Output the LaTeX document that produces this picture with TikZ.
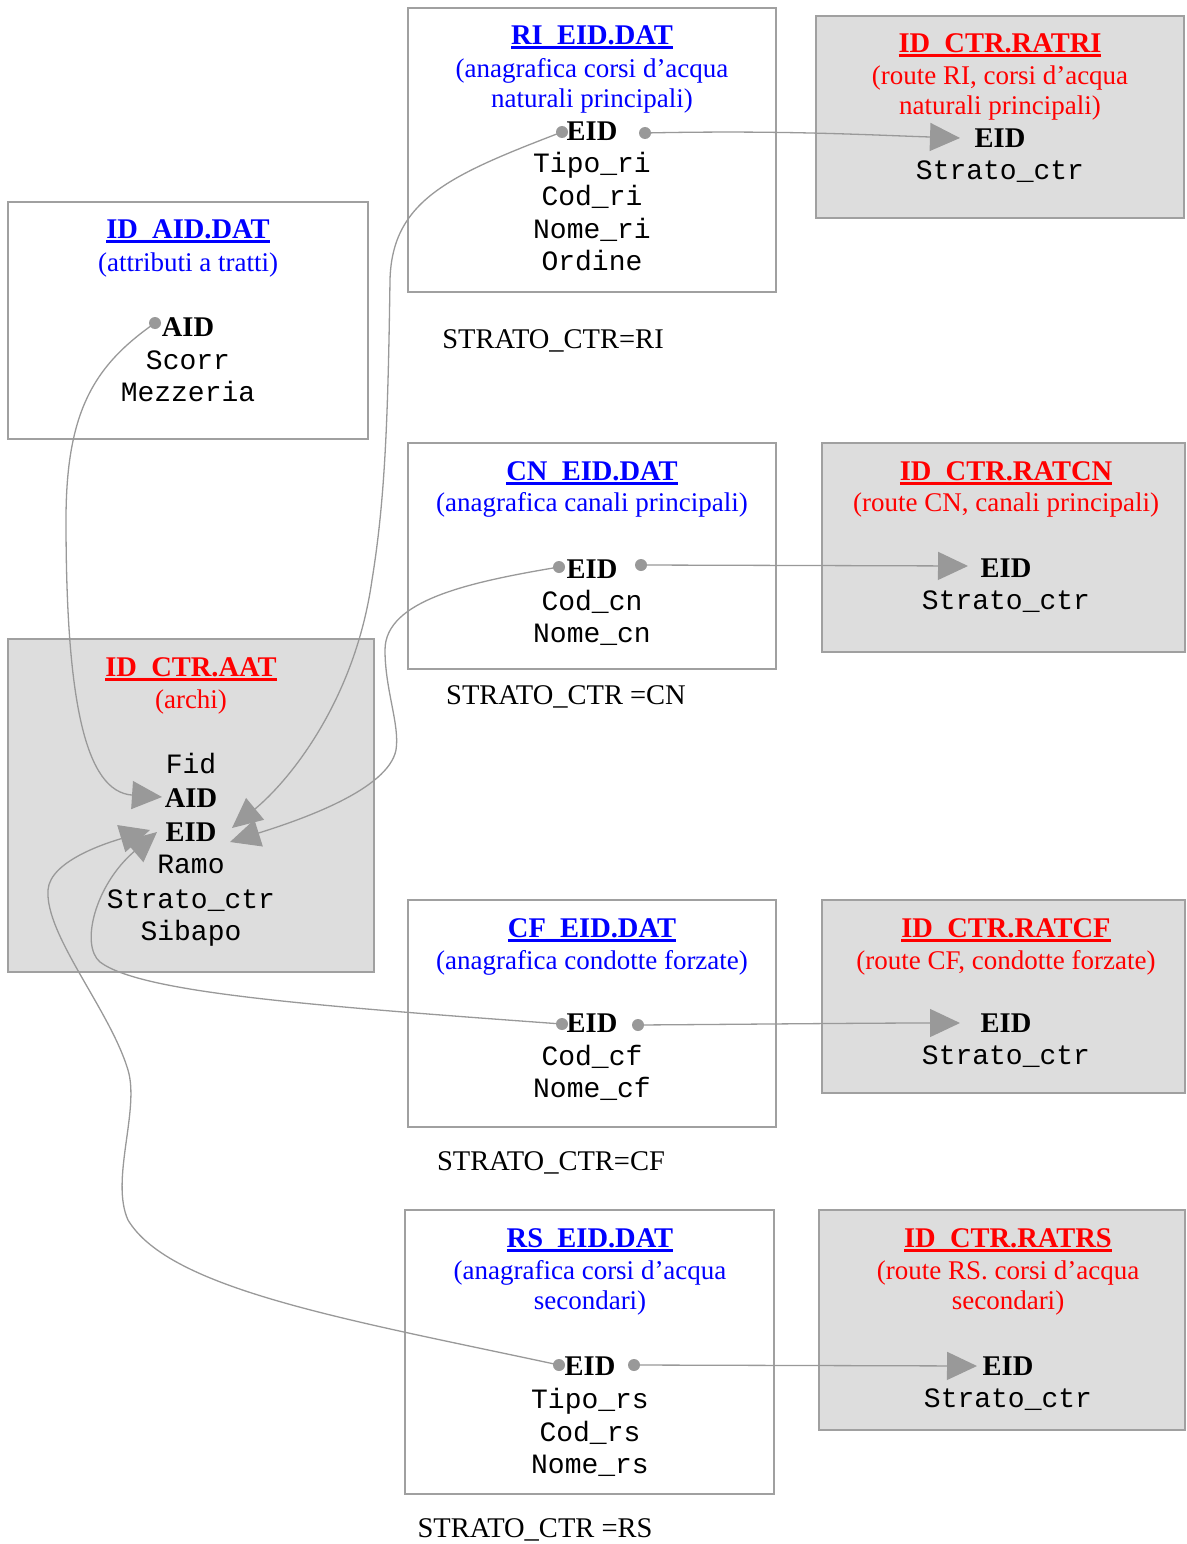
\documentclass[tikz,border=0pt]{standalone}
\usepackage{fontspec}
\setmainfont{Liberation Serif}
\setmonofont{Liberation Mono}
\usetikzlibrary{arrows.meta}
\definecolor{bordergray}{HTML}{A0A0A0}
\definecolor{boxgray}{HTML}{DDDDDD}
\definecolor{linegray}{HTML}{999999}
\definecolor{tblue}{HTML}{0000FF}
\definecolor{tred}{HTML}{FF0000}
\newcommand{\myul}[1]{\setbox0=\hbox{#1}\leavevmode\rlap{\rule[-4.5pt]{\wd0}{2.6pt}}\box0}
\tikzset{
  wbox/.style={draw=bordergray, line width=1.4pt, fill=white},
  gbox/.style={draw=bordergray, line width=1.4pt, fill=boxgray},
  ttl/.style={font=\fontsize{28.5}{31}\selectfont\bfseries, inner sep=0pt, text height=19pt, text depth=0pt},
  bttl/.style={ttl, text=tblue},
  rttl/.style={ttl, text=tred},
  sub/.style={font=\fontsize{27}{30.5}\selectfont, inner sep=0pt, align=center},
  bsub/.style={sub, text=tblue},
  rsub/.style={sub, text=tred},
  key/.style={font=\fontsize{28.5}{31}\selectfont\bfseries, inner sep=0pt, text height=19pt, text depth=0pt},
  fld/.style={font=\fontsize{28}{31}\selectfont\ttfamily, inner sep=0pt, text height=17pt, text depth=6pt, yshift=-4pt},
  lbl/.style={font=\fontsize{28.5}{31}\selectfont, inner sep=0pt, text height=19pt, text depth=6pt, yshift=-3pt},
  dot/.style={circle, fill=linegray, inner sep=0pt, minimum size=12pt},
  link/.style={color=linegray, line width=1.3pt},
  arr/.style={link, -{Triangle[length=30pt,width=28pt]}},
}
\begin{document}
\begin{tikzpicture}[x=1pt,y=-1pt]
\useasboundingbox (0,0) rectangle (1186,1544);
% boxes
\path[wbox] (408,8) rectangle (776,292);
\path[gbox] (816,16) rectangle (1184,218);
\path[wbox] (8,202) rectangle (368,439);
\path[wbox] (408,443) rectangle (776,669);
\path[gbox] (822,443) rectangle (1185,652);
\path[gbox] (8,639) rectangle (374,972);
\path[wbox] (408,900) rectangle (776,1127);
\path[gbox] (822,900) rectangle (1185,1093);
\path[wbox] (405,1210) rectangle (774,1494);
\path[gbox] (819,1210) rectangle (1185,1430);

% RI_EID
\node[bttl] (ri-t) at (592,35) {\myul{RI\_EID.DAT}};
\node[bsub] (ri-s) at (592,86) {(anagrafica corsi d’acqua\\naturali principali)};
\node[key] (ri-eid) at (592,131) {EID};
\node[fld] (ri-f1) at (592,163) {Tipo\_ri};
\node[fld] (ri-f2) at (592,196) {Cod\_ri};
\node[fld] (ri-f3) at (592,229) {Nome\_ri};
\node[fld] (ri-f4) at (592,261) {Ordine};
\node[lbl] (ri-l) at (553,339) {STRATO\_CTR=RI};

% RATRI
\node[rttl] (ratri-t) at (1000,43) {\myul{ID\_CTR.RATRI}};
\node[rsub] (ratri-s) at (1000,93) {(route RI, corsi d’acqua\\naturali principali)};
\node[key] (ratri-eid) at (1000,138) {EID};
\node[fld] (ratri-f1) at (1000,170) {Strato\_ctr};

% AID
\node[bttl] (aid-t) at (188,229) {\myul{ID\_AID.DAT}};
\node[bsub] (aid-s) at (188,265) {(attributi a tratti)};
\node[key] (aid-aid) at (188,327) {AID};
\node[fld] (aid-f1) at (188,360) {Scorr};
\node[fld] (aid-f2) at (188,392) {Mezzeria};

% CN
\node[bttl] (cn-t) at (592,471) {\myul{CN\_EID.DAT}};
\node[bsub] (cn-s) at (592,505) {(anagrafica canali principali)};
\node[key] (cn-eid) at (592,569) {EID};
\node[fld] (cn-f1) at (592,601) {Cod\_cn};
\node[fld] (cn-f2) at (592,633) {Nome\_cn};
\node[lbl] (cn-l) at (566,695) {STRATO\_CTR =CN};

% RATCN
\node[rttl] (ratcn-t) at (1006,471) {\myul{ID\_CTR.RATCN}};
\node[rsub] (ratcn-s) at (1006,505) {(route CN, canali principali)};
\node[key] (ratcn-eid) at (1006,568) {EID};
\node[fld] (ratcn-f1) at (1006,600) {Strato\_ctr};

% AAT
\node[rttl] (aat-t) at (191,667) {\myul{ID\_CTR.AAT}};
\node[rsub] (aat-s) at (191,702) {(archi)};
\node[fld] (aat-f1) at (191,764) {Fid};
\node[key] (aat-aid) at (191,798) {AID};
\node[key] (aat-eid) at (191,832) {EID};
\node[fld] (aat-f2) at (191,864) {Ramo};
\node[fld] (aat-f3) at (191,899) {Strato\_ctr};
\node[fld] (aat-f4) at (191,931) {Sibapo};

% CF
\node[bttl] (cf-t) at (592,928) {\myul{CF\_EID.DAT}};
\node[bsub] (cf-s) at (592,963) {(anagrafica condotte forzate)};
\node[key] (cf-eid) at (592,1023) {EID};
\node[fld] (cf-f1) at (592,1056) {Cod\_cf};
\node[fld] (cf-f2) at (592,1088) {Nome\_cf};
\node[lbl] (cf-l) at (551,1161) {STRATO\_CTR=CF};

% RATCF
\node[rttl] (ratcf-t) at (1006,928) {\myul{ID\_CTR.RATCF}};
\node[rsub] (ratcf-s) at (1006,963) {(route CF, condotte forzate)};
\node[key] (ratcf-eid) at (1006,1023) {EID};
\node[fld] (ratcf-f1) at (1006,1055) {Strato\_ctr};

% RS
\node[bttl] (rs-t) at (590,1238) {\myul{RS\_EID.DAT}};
\node[bsub] (rs-s) at (590,1288) {(anagrafica corsi d’acqua\\secondari)};
\node[key] (rs-eid) at (590,1366) {EID};
\node[fld] (rs-f1) at (590,1399) {Tipo\_rs};
\node[fld] (rs-f2) at (590,1432) {Cod\_rs};
\node[fld] (rs-f3) at (590,1464) {Nome\_rs};
\node[lbl] (rs-l) at (535,1528) {STRATO\_CTR =RS};

% RATRS
\node[rttl] (ratrs-t) at (1008,1238) {\myul{ID\_CTR.RATRS}};
\node[rsub] (ratrs-s) at (1008,1288) {(route RS. corsi d’acqua\\secondari)};
\node[key] (ratrs-eid) at (1008,1366) {EID};
\node[fld] (ratrs-f1) at (1008,1398) {Strato\_ctr};

% connector end points
\coordinate (ri-dl) at (562,132);
\coordinate (ri-dr) at (645,133);
\coordinate (cn-dl) at (559,567);
\coordinate (cn-dr) at (641,565);
\coordinate (cf-dl) at (562,1024);
\coordinate (cf-dr) at (638,1025);
\coordinate (rs-dl) at (559,1365);
\coordinate (rs-dr) at (634,1365);
\coordinate (aid-d) at (155,323);
\coordinate (ratri-in) at (960,138);
\coordinate (ratcn-in) at (968,566);
\coordinate (ratcf-in) at (960,1023);
\coordinate (ratrs-in) at (977,1366);
\coordinate (aat-aidin) at (162,797);
\coordinate (aat-eid1) at (232,828);
\coordinate (aat-eid2) at (230,842);
\coordinate (aat-eid3) at (157,832);
\coordinate (aat-eid4) at (150,830);

% right links
\draw[arr] (ri-dr) .. controls (780,130) and (870,135) .. (ratri-in);
\draw[arr] (cn-dr) -- (ratcn-in);
\draw[arr] (cf-dr) .. controls (780,1024) and (870,1023) .. (ratcf-in);
\draw[arr] (rs-dr) -- (ratrs-in);

% left links
\draw[arr] (aid-d) .. controls (95,365) and (66,410) .. (66,520) .. controls (66,700) and (85,792) .. (aat-aidin);
\draw[arr] (ri-dl) .. controls (450,175) and (392,200) .. (390,280) .. controls (388,420) and (385,500) .. (372,580) .. controls (355,700) and (290,780) .. (aat-eid1);
\draw[arr] (cn-dl) .. controls (470,582) and (385,600) .. (385,650) .. controls (385,690) and (400,725) .. (396,750) .. controls (388,790) and (300,820) .. (aat-eid2);
\draw[arr] (cf-dl) .. controls (300,1005) and (140,992) .. (100,962) .. controls (80,945) and (95,885) .. (aat-eid3);
\draw[arr] (rs-dl) .. controls (350,1320) and (170,1290) .. (128,1220) .. controls (110,1180) and (140,1110) .. (128,1070) .. controls (110,1010) and (45,935) .. (48,890) .. controls (50,860) and (110,842) .. (aat-eid4);

% dots
\foreach \p in {ri-dl,ri-dr,cn-dl,cn-dr,cf-dl,cf-dr,rs-dl,rs-dr,aid-d}
  \node[dot] at (\p) {};
\end{tikzpicture}
\end{document}
